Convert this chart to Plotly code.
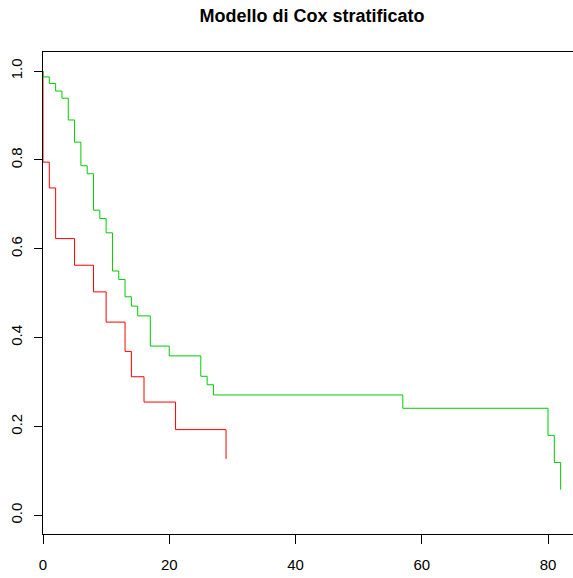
import plotly.graph_objects as go

# Stratum 1 (red) step survival curve
red_time = [0, 0, 1, 2, 5, 8, 10, 13, 14, 16, 21, 29]
red_surv = [1.0, 0.795, 0.737, 0.623, 0.563, 0.503, 0.435, 0.369, 0.312, 0.255, 0.193, 0.127]

# Stratum 2 (green) step survival curve
green_time = [0, 0, 1, 2, 3, 4, 5, 6, 7, 8, 9, 10, 11, 12, 13, 14, 15, 17, 20,
              25, 26, 27, 57, 80, 81, 82]
green_surv = [1.0, 0.987, 0.972, 0.955, 0.939, 0.890, 0.840, 0.787, 0.769, 0.687,
              0.668, 0.636, 0.550, 0.531, 0.492, 0.471, 0.449, 0.381, 0.359,
              0.313, 0.294, 0.271, 0.241, 0.180, 0.119, 0.058]

x_ticks = [0, 20, 40, 60, 80]
y_ticks = [0.0, 0.2, 0.4, 0.6, 0.8, 1.0]
y_tick_labels = ["0.0", "0.2", "0.4", "0.6", "0.8", "1.0"]

title_text = "Modello di Cox stratificato"

W, H = 573, 578
ml, mt, mb, mr = 43, 52, 44, 0

fig = go.Figure()
fig.add_trace(go.Scatter(x=red_time, y=red_surv, mode="lines", cliponaxis=False,
                         line=dict(color="#FF0000", width=1, shape="hv"),
                         showlegend=False, hoverinfo="skip"))
fig.add_trace(go.Scatter(x=green_time, y=green_surv, mode="lines", cliponaxis=False,
                         line=dict(color="#00CD00", width=1, shape="hv"),
                         showlegend=False, hoverinfo="skip"))

font_family = "Liberation Sans, Arial, sans-serif"

fig.update_layout(
    width=W, height=H,
    margin=dict(l=ml, r=mr, t=mt, b=mb, pad=0),
    paper_bgcolor="white", plot_bgcolor="white",
    font=dict(family=font_family, size=15, color="black"),
    title=dict(text="<b>" + title_text + "</b>", font=dict(size=18, family=font_family, color="black"),
               x=(312 - ml) / (W - ml - mr), xref="paper", xanchor="center",
               y=1 - 16 / H, yref="container", yanchor="middle"),
    xaxis=dict(range=[0, (W - ml - mr) / 6.3125], tickmode="array", tickvals=x_ticks,
               ticktext=[str(v) for v in x_ticks],
               showgrid=False, zeroline=False, showline=True, linecolor="black", linewidth=1,
               mirror=True, ticks="outside", ticklen=9, tickcolor="black", tickwidth=1,
               layer="below traces",
               tickfont=dict(size=15, family=font_family, color="black"),
               ticklabelstandoff=8),
    yaxis=dict(range=[-0.042, 1.043], tickmode="array", tickvals=y_ticks, ticktext=y_tick_labels,
               showgrid=False, zeroline=False, showline=True, linecolor="black", linewidth=1,
               mirror=False, ticks="outside", ticklen=8, tickcolor="black", tickwidth=1,
               tickangle=-90, layer="below traces",
               tickfont=dict(size=15, family=font_family, color="black"),
               ticklabelstandoff=6),
)

fig.write_html("out.html")
